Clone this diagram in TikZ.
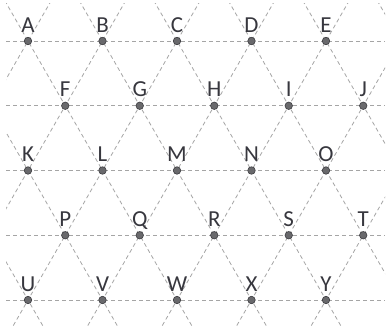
\documentclass[tikz,border=0pt]{standalone}
\usepackage{fontspec}
\setsansfont{Carlito}
\usetikzlibrary{positioning,calc}
\definecolor{gridcolor}{RGB}{165,165,165}
\definecolor{dotfill}{RGB}{105,105,108}
\definecolor{dotdraw}{RGB}{60,60,64}
\definecolor{labelcolor}{RGB}{55,55,62}

\begin{document}
\begin{tikzpicture}[
  x=1bp, y=-1bp,
  gridline/.style={draw=gridcolor,line width=0.8bp,dash pattern=on 4bp off 3bp},
  latdot/.style={circle,fill=dotfill,draw=dotdraw,line width=0.6bp,minimum size=7.5bp,inner sep=0pt},
  letter/.style={font=\sffamily\fontsize{23}{26}\selectfont,text=labelcolor,inner sep=0pt,anchor=base},
]
\useasboundingbox[fill=white] (0,0) rectangle (389,328);

% lattice step
\def\dx{74.5}
\def\dy{64.75}

% --- GRID LINES ---
\begin{scope}
  \clip (6,3) rectangle (385,325);
  % horizontal rows
  \foreach \r in {0,...,4}
    \draw[gridline] (6,{41+\dy*\r}) -- (385,{41+\dy*\r});
  % diagonals through the row-0 points
  \foreach \k in {-6,...,10} {
    \draw[gridline] ({28+\dx*\k-\dx/2},{41-\dy}) -- ({28+\dx*\k+\dx/2*5},{41+\dy*5});
    \draw[gridline] ({28+\dx*\k+\dx/2},{41-\dy}) -- ({28+\dx*\k-\dx/2*5},{41+\dy*5});
  }
\end{scope}

% --- POINTS + LETTERS ---
\foreach \n/\r/\c in {A/0/0,B/0/1,C/0/2,D/0/3,E/0/4,
                      F/1/0,G/1/1,H/1/2,I/1/3,J/1/4,
                      K/2/0,L/2/1,M/2/2,N/2/3,O/2/4,
                      P/3/0,Q/3/1,R/3/2,S/3/3,T/3/4,
                      U/4/0,V/4/1,W/4/2,X/4/3,Y/4/4} {
  \pgfmathsetmacro\px{28+\dx*\c+mod(\r,2)*\dx/2}
  \pgfmathsetmacro\py{41+\dy*\r}
  \node[latdot] (\n) at (\px,\py) {};
  \node[letter] (lbl\n) at ($(\n)+(0,-9)$) {\n};
}

\end{tikzpicture}
\end{document}
